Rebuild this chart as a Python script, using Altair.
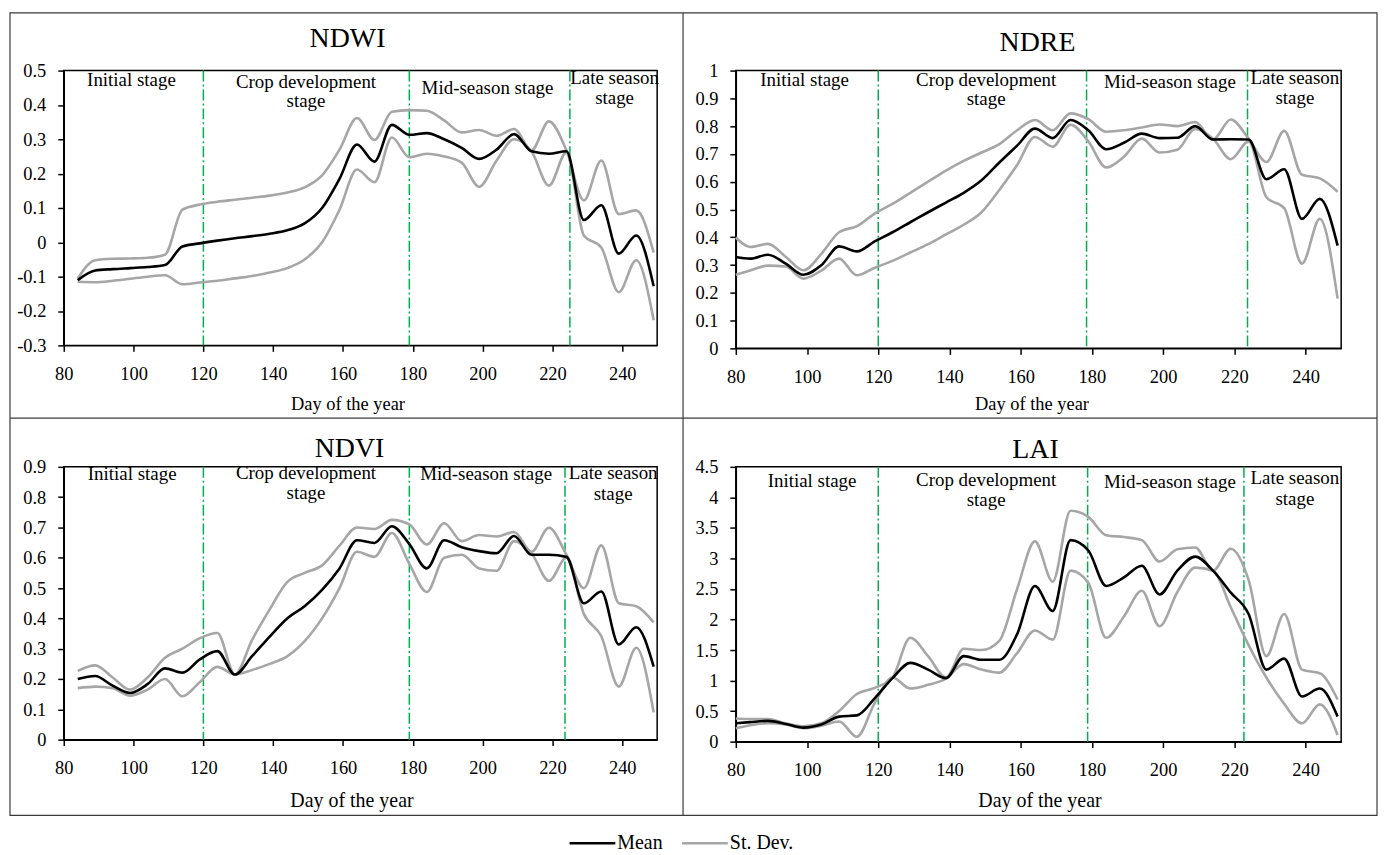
import altair as alt
import pandas as pd

FONT = "Liberation Serif"
GREEN = "#00b050"
GRAY = "#a6a6a6"

# ---------------- data ----------------
days_a = [84, 89, 94, 99, 104, 109, 114, 119, 124, 129, 134, 139, 144, 149, 154, 159, 164,
          169, 174, 179, 184, 189, 194, 199, 204, 209, 214, 219, 224, 229, 234, 239, 244, 249]
days_b = [80, 84, 89, 94, 99, 104, 109, 114, 119, 124, 129, 134, 139, 144, 149, 154, 159, 164,
          169, 174, 179, 184, 189, 194, 199, 204, 209, 214, 219, 224, 229, 234, 239, 244, 249]

ndwi_mean = [-0.110, -0.082, -0.078, -0.075, -0.072, -0.066, -0.012, -0.003, 0.005, 0.012, 0.018,
             0.025, 0.035, 0.055, 0.100, 0.185, 0.285, 0.235, 0.342, 0.313, 0.318, 0.300, 0.275,
             0.243, 0.270, 0.315, 0.265, 0.258, 0.265, 0.065, 0.108, -0.033, 0.020, -0.128]
ndwi_up = [-0.105, -0.052, -0.048, -0.047, -0.045, -0.036, 0.095, 0.110, 0.118, 0.124, 0.130,
           0.136, 0.145, 0.160, 0.195, 0.270, 0.362, 0.298, 0.380, 0.385, 0.383, 0.355, 0.320,
           0.327, 0.310, 0.330, 0.268, 0.352, 0.268, 0.122, 0.238, 0.082, 0.093, -0.030]
ndwi_lo = [-0.115, -0.116, -0.112, -0.106, -0.100, -0.096, -0.122, -0.117, -0.112, -0.105, -0.098,
           -0.088, -0.075, -0.050, 0.000, 0.095, 0.212, 0.175, 0.305, 0.248, 0.258, 0.250, 0.232,
           0.162, 0.238, 0.300, 0.265, 0.165, 0.262, 0.020, -0.015, -0.145, -0.052, -0.227]

ndre_mean = [0.329, 0.323, 0.337, 0.305, 0.265, 0.299, 0.367, 0.349, 0.385, 0.418, 0.454, 0.490,
             0.525, 0.560, 0.605, 0.669, 0.730, 0.791, 0.757, 0.822, 0.785, 0.717, 0.740, 0.773,
             0.757, 0.758, 0.800, 0.752, 0.753, 0.752, 0.609, 0.645, 0.466, 0.538, 0.370]
ndre_up = [0.399, 0.365, 0.376, 0.330, 0.281, 0.340, 0.418, 0.440, 0.485, 0.520, 0.560, 0.600,
           0.640, 0.675, 0.705, 0.735, 0.785, 0.822, 0.785, 0.846, 0.825, 0.780, 0.785, 0.795,
           0.806, 0.800, 0.815, 0.752, 0.824, 0.755, 0.671, 0.783, 0.625, 0.612, 0.564]
ndre_lo = [0.265, 0.280, 0.298, 0.295, 0.251, 0.280, 0.323, 0.263, 0.290, 0.315, 0.345, 0.375,
           0.410, 0.445, 0.490, 0.570, 0.660, 0.761, 0.726, 0.805, 0.745, 0.651, 0.690, 0.755,
           0.705, 0.715, 0.790, 0.755, 0.681, 0.745, 0.544, 0.505, 0.305, 0.466, 0.179]

ndvi_mean = [0.200, 0.210, 0.178, 0.154, 0.183, 0.235, 0.221, 0.265, 0.292, 0.215, 0.276, 0.340,
             0.400, 0.440, 0.494, 0.565, 0.658, 0.649, 0.704, 0.645, 0.565, 0.658, 0.635, 0.622,
             0.615, 0.672, 0.610, 0.610, 0.603, 0.450, 0.489, 0.314, 0.371, 0.241]
ndvi_up = [0.227, 0.245, 0.205, 0.165, 0.205, 0.270, 0.300, 0.335, 0.352, 0.215, 0.330, 0.430,
           0.520, 0.550, 0.575, 0.640, 0.700, 0.695, 0.725, 0.710, 0.644, 0.714, 0.655, 0.675,
           0.670, 0.685, 0.620, 0.699, 0.610, 0.500, 0.641, 0.450, 0.440, 0.387]
ndvi_lo = [0.170, 0.175, 0.170, 0.145, 0.165, 0.200, 0.143, 0.190, 0.240, 0.215, 0.230, 0.250,
           0.275, 0.325, 0.400, 0.500, 0.620, 0.603, 0.682, 0.580, 0.487, 0.600, 0.610, 0.565,
           0.557, 0.655, 0.615, 0.524, 0.600, 0.415, 0.341, 0.175, 0.303, 0.090]

lai_mean = [0.30, 0.32, 0.34, 0.29, 0.23, 0.28, 0.41, 0.43, 0.71, 1.04, 1.29, 1.18, 1.04, 1.40,
            1.34, 1.34, 1.76, 2.55, 2.14, 3.30, 3.13, 2.55, 2.69, 2.88, 2.41, 2.80, 3.03, 2.80,
            2.44, 2.09, 1.18, 1.36, 0.74, 0.87, 0.41]
lai_up = [0.38, 0.37, 0.37, 0.30, 0.25, 0.30, 0.50, 0.78, 0.88, 1.05, 1.70, 1.40, 1.05, 1.52,
          1.50, 1.65, 2.50, 3.28, 2.62, 3.78, 3.68, 3.38, 3.35, 3.30, 2.95, 3.15, 3.18, 2.80,
          3.16, 2.65, 1.40, 2.09, 1.18, 1.12, 0.69]
lai_lo = [0.22, 0.27, 0.30, 0.28, 0.22, 0.26, 0.33, 0.08, 0.63, 1.05, 0.87, 0.93, 1.03, 1.27,
          1.18, 1.13, 1.45, 1.82, 1.67, 2.80, 2.60, 1.70, 2.05, 2.47, 1.89, 2.45, 2.85, 2.80,
          2.20, 1.58, 1.05, 0.62, 0.30, 0.61, 0.11]

# stage boundaries (day of year)
ndwi_stages = [120, 179, 225]
ndre_stages = [120, 178.5, 223.7]
ndvi_stages = [120, 179, 223.6]
lai_stages = [120, 178.8, 222.7]

# stage label lines and their centre day
stage_lines = ["Initial stage", "Crop development", "stage", "Mid-season stage", "Late season", "stage"]
ndwi_label_days = [99.4, 149.4, 149.4, 201.4, 237.8, 237.8]
ndre_label_days = [99.3, 150.3, 150.3, 201.9, 237.0, 237.0]
ndvi_label_days = [99.6, 149.4, 149.4, 201.0, 237.4, 237.4]
lai_label_days = [101.4, 150.3, 150.3, 201.9, 237.0, 237.0]

x_ticks = [80, 100, 120, 140, 160, 180, 200, 220, 240]
ndwi_ticks = [-0.3, -0.2, -0.1, 0, 0.1, 0.2, 0.3, 0.4, 0.5]
ndre_ticks = [0, 0.1, 0.2, 0.3, 0.4, 0.5, 0.6, 0.7, 0.8, 0.9, 1]
ndvi_ticks = [0, 0.1, 0.2, 0.3, 0.4, 0.5, 0.6, 0.7, 0.8, 0.9]
lai_ticks = [0, 0.5, 1, 1.5, 2, 2.5, 3, 3.5, 4, 4.5]

series_names = ["Mean", "St. Dev."]


def make_panel(title, days, mean, up, lo, stages, label_days, yticks, w, h,
               title_pos, xtitle_pos, xtitle_size, label_y, frame=False):
    rows = []
    for d, m, u, l in zip(days, mean, up, lo):
        rows.append({"day": d, "value": m, "series": "Mean", "line": "mean"})
        rows.append({"day": d, "value": u, "series": "St. Dev.", "line": "upper"})
        rows.append({"day": d, "value": l, "series": "St. Dev.", "line": "lower"})
    df = pd.DataFrame(rows)

    xenc = alt.X("day:Q",
                 scale=alt.Scale(domain=[80, 250], nice=False, zero=False),
                 axis=alt.Axis(values=x_ticks, title="Day of the year",
                               titleX=xtitle_pos[0], titleY=xtitle_pos[1],
                               titleBaseline="alphabetic", titleAlign="center",
                               titleFontSize=xtitle_size, labelPadding=13,
                               labelFlush=False))
    yenc = alt.Y("value:Q",
                 scale=alt.Scale(domain=[yticks[0], yticks[-1]], nice=False, zero=False),
                 axis=alt.Axis(values=yticks, title=None, labelPadding=12, labelFlush=False,
                               labelExpr="'' + round(datum.value*10)/10"))
    color = alt.Color("series:N",
                      scale=alt.Scale(domain=series_names, range=["#000000", GRAY]),
                      legend=alt.Legend(title=None))

    std = (alt.Chart(df).transform_filter(alt.datum.series == "St. Dev.")
           .mark_line(interpolate="monotone", strokeWidth=2.6)
           .encode(x=xenc, y=yenc, color=color, detail="line:N"))
    mean_l = (alt.Chart(df).transform_filter(alt.datum.series == "Mean")
              .mark_line(interpolate="monotone", strokeWidth=2.6)
              .encode(x=xenc, y=yenc, color=color, detail="line:N"))
    rules = (alt.Chart(pd.DataFrame({"day": stages}))
             .mark_rule(color=GREEN, strokeWidth=1.5, strokeDash=[11, 3, 2, 3])
             .encode(x="day:Q"))

    layers = [rules, std, mean_l]

    for txt, d, yb in zip(stage_lines, label_days, label_y):
        layers.append(
            alt.Chart(pd.DataFrame({"day": [d], "t": [txt]}))
            .mark_text(font=FONT, fontSize=19, baseline="alphabetic", align="center", color="#000")
            .encode(x="day:Q", y=alt.value(yb), text="t:N"))

    layers.append(
        alt.Chart(pd.DataFrame({"t": [title]}))
        .mark_text(font=FONT, fontSize=28, baseline="alphabetic", align="center", color="#000")
        .encode(x=alt.value(title_pos[0]), y=alt.value(title_pos[1]), text="t:N"))

    if frame:
        one = pd.DataFrame({"k": [0]})
        layers.append(alt.Chart(one).mark_rect(fillOpacity=0, stroke="#3a3a3a", strokeWidth=1.2)
                      .encode(x=alt.value(-54), x2=alt.value(1319), y=alt.value(-58), y2=alt.value(748)))
        layers.append(alt.Chart(one).mark_rule(color="#3a3a3a", strokeWidth=1.2)
                      .encode(x=alt.value(622), y=alt.value(-58), y2=alt.value(748)))
        layers.append(alt.Chart(one).mark_rule(color="#3a3a3a", strokeWidth=1.2)
                      .encode(x=alt.value(-54), x2=alt.value(1319), y=alt.value(349)))

    return alt.layer(*layers).properties(width=w, height=h)


p1 = make_panel("NDWI", days_a, ndwi_mean, ndwi_up, ndwi_lo, ndwi_stages, ndwi_label_days,
                ndwi_ticks, 596, 276, (285, -24), (285, 64), 18.5, [15, 17, 37, 24, 13, 34], frame=True)
p2 = make_panel("NDRE", days_b, ndre_mean, ndre_up, ndre_lo, ndre_stages, ndre_label_days,
                ndre_ticks, 608, 279, (303, -20), (297, 61), 18.5, [15, 15, 35, 17, 13, 34])
p3 = make_panel("NDVI", days_a, ndvi_mean, ndvi_up, ndvi_lo, ndvi_stages, ndvi_label_days,
                ndvi_ticks, 596, 274, (287, -10), (289, 67), 20, [13, 12, 32, 13, 12, 33])
p4 = make_panel("LAI", days_b, lai_mean, lai_up, lai_lo, lai_stages, lai_label_days,
                lai_ticks, 608, 276, (301, -9), (305, 65), 20, [20, 19, 39, 21, 17, 38])

chart = (
    alt.concat(p1, p2, p3, p4, columns=2, spacing={"row": 119, "column": 79}, bounds="flush")
    .resolve_scale(x="independent", y="independent", color="shared")
    .properties(padding={"left": 0, "top": 1, "right": 0, "bottom": 0})
    .configure_view(stroke="#000000", strokeWidth=1.5)
    .configure_axis(grid=False, domainColor="#000000", domainWidth=1.5, tickColor="#000000",
                    tickWidth=1.5, tickSize=6, labelFont=FONT, labelFontSize=18.5,
                    labelColor="#000000", titleFont=FONT, titleFontWeight="normal",
                    titleColor="#000000")
    .configure_legend(orient="none", legendX=521, legendY=766, direction="horizontal",
                      symbolType="M-4,0H4", symbolSize=132, symbolStrokeWidth=2.6,
                      labelFont=FONT, labelFontSize=20, labelColor="#000000",
                      labelOffset=15, columnPadding=13, padding=0)
)

chart.save("out.html", embed_options={"renderer": "svg", "actions": False})
